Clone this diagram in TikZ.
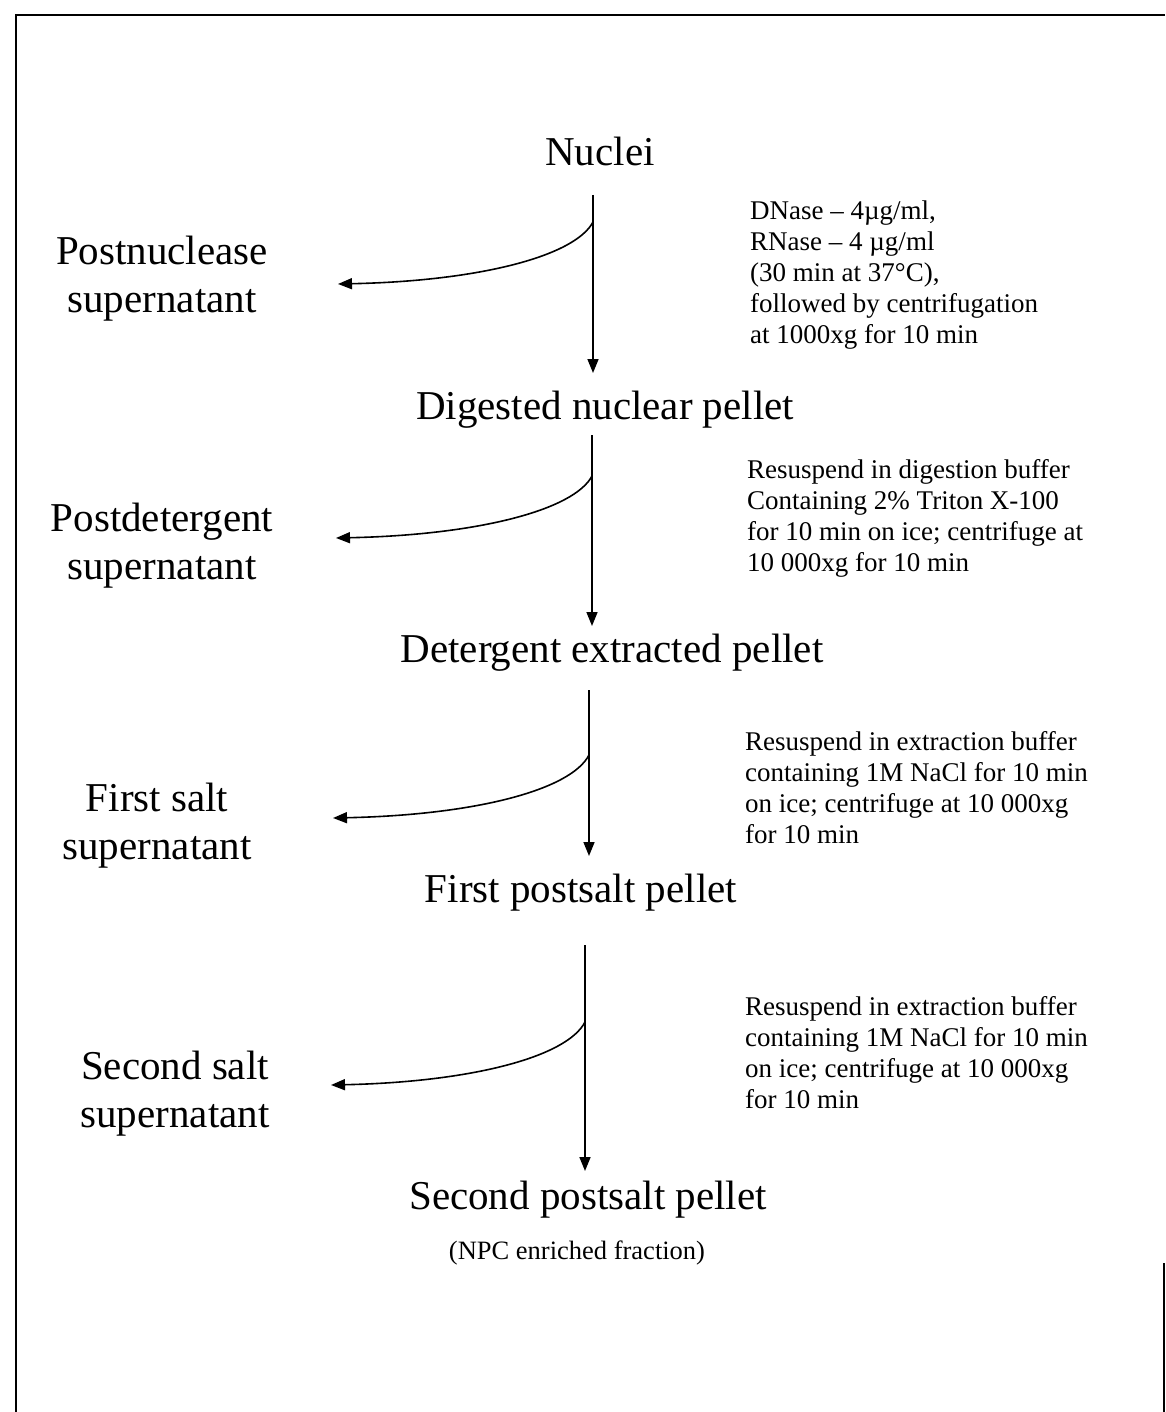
\documentclass[tikz,border=0pt]{standalone}
\usepackage{fontspec}
\setmainfont{Liberation Serif}
\usetikzlibrary{arrows.meta}
\begin{document}
\begin{tikzpicture}[x=1pt,y=-1pt,
  big/.style={font=\fontsize{41}{48}\selectfont, inner sep=0pt, anchor=base},
  side/.style={font=\fontsize{41}{48}\selectfont, inner sep=0pt, align=center, anchor=north},
  note/.style={font=\fontsize{27}{31}\selectfont, inner sep=0pt, align=left, anchor=north west},
  small/.style={font=\fontsize{26.5}{30}\selectfont, inner sep=0pt, anchor=base},
  flow/.style={line width=1.6pt, -{Triangle[length=14pt,width=11pt]}},
  frame/.style={line width=1.8pt}]
\useasboundingbox (0,0) rectangle (1165,1412);
% frame
\coordinate (f1) at (16,1412);
\coordinate (f2) at (16,15);
\coordinate (f3) at (1165,15);
\coordinate (f4) at (1164,1263);
\coordinate (f5) at (1164,1412);
\draw[frame] (f1) -- (f2) -- (f3);
\draw[line width=1.4pt] (f4) -- (f5);
% main labels
\node[big] (nuc) at (600,166) {Nuclei};
\node[big] (dig) at (605,419) {Digested nuclear pellet};
\node[big] (det) at (612,662) {Detergent extracted pellet};
\node[big] (fps) at (581,902) {First postsalt pellet};
\node[big] (sps) at (588,1209) {Second postsalt pellet};
\node[small] (npc) at (577,1259) {(NPC enriched fraction)};
% side labels
\node[side] (s1) at (162,236) {Postnuclease\\supernatant};
\node[side] (s2) at (162,503) {Postdetergent\\supernatant};
\node[side] (s3) at (157,783) {First salt\\supernatant};
\node[side] (s4) at (175,1051) {Second salt\\supernatant};
% notes
\node[note] (n1) at (750,201) {DNase -- 4µg/ml,\\RNase -- 4 µg/ml\\(30 min at 37°C),\\followed by centrifugation\\at 1000xg for 10 min};
\node[note] (n2) at (747,459) {Resuspend in digestion buffer\\Containing 2\% Triton X-100\\for 10 min on ice; centrifuge at\\10 000xg for 10 min};
\node[note] (n3) at (745,731) {Resuspend in extraction buffer\\containing 1M NaCl for 10 min\\on ice; centrifuge at 10 000xg\\for 10 min};
\node[note] (n4) at (745,996) {Resuspend in extraction buffer\\containing 1M NaCl for 10 min\\on ice; centrifuge at 10 000xg\\for 10 min};
% arrow 1
\coordinate (a1s) at (593,195);
\coordinate (a1e) at (593,373);
\coordinate (b1) at (593,222);
\coordinate (t1) at (338,284);
\draw[flow] (a1s) -- (a1e);
\draw[flow] (b1) .. controls (575,256) and (480,281) .. (t1);
% arrow 2
\coordinate (a2s) at (592,435);
\coordinate (a2e) at (592,626);
\coordinate (b2) at (592,476);
\coordinate (t2) at (336,538);
\draw[flow] (a2s) -- (a2e);
\draw[flow] (b2) .. controls (574,510) and (478,535) .. (t2);
% arrow 3
\coordinate (a3s) at (589,690);
\coordinate (a3e) at (589,856);
\coordinate (b3) at (589,755);
\coordinate (t3) at (333,818);
\draw[flow] (a3s) -- (a3e);
\draw[flow] (b3) .. controls (571,790) and (475,815) .. (t3);
% arrow 4
\coordinate (a4s) at (585,945);
\coordinate (a4e) at (585,1171);
\coordinate (b4) at (585,1022);
\coordinate (t4) at (331,1085);
\draw[flow] (a4s) -- (a4e);
\draw[flow] (b4) .. controls (567,1057) and (471,1082) .. (t4);
\end{tikzpicture}
\end{document}
